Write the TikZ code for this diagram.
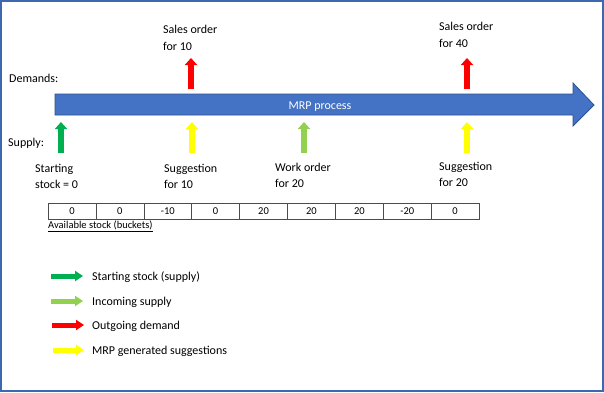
\documentclass[tikz,border=0pt]{standalone}
\usepackage{fontspec}
\setmainfont{Carlito}
\usetikzlibrary{arrows.meta}
\definecolor{mblue}{HTML}{4472C4}
\definecolor{mblueline}{HTML}{2F528F}
\definecolor{sgreen}{HTML}{00B050}
\definecolor{lgreen}{HTML}{92D050}
\definecolor{syellow}{HTML}{FFFF00}
\definecolor{sred}{HTML}{FF0000}
\begin{document}
\begin{tikzpicture}[x=1pt,y=-1pt,
  lbl/.style={anchor=base west,align=left,inner sep=0pt,font=\fontsize{12}{16.5}\selectfont},
  vup/.style={line width=6pt,-{Triangle[width=12pt,length=7pt]}},
  hright/.style={line width=5pt,-{Triangle[width=10pt,length=8pt]}},
  cell/.style={draw=black!70,line width=0.6pt,minimum width=47.9pt,minimum height=15.3pt,inner sep=0pt,font=\fontsize{10.5}{12}\selectfont}]
\useasboundingbox (0,0) rectangle (604,392);
\fill[white] (0,0) rectangle (604,392);
\draw[mblue!90!black,line width=1.5pt] (1,1) rectangle (603,391);
% big process arrow
\draw[fill=mblue,draw=mblueline,line width=0.8pt]
  (55,94) -- (573,94) -- (573,83) -- (594,105) -- (573,126) -- (573,115) -- (55,115) -- cycle;
\node[anchor=base,inner sep=0pt,text=white,font=\fontsize{12}{14}\selectfont] (mrp) at (320,109) {MRP process};
% side labels
\node[lbl] (dem) at (9,82.5) {Demands:};
\node[lbl] (sup) at (8,146) {Supply:};
% demand arrows
\coordinate (r1a) at (191,89); \coordinate (r1b) at (191,58);
\coordinate (r2a) at (467,89); \coordinate (r2b) at (467,58);
\draw[vup,sred] (r1a) -- (r1b);
\draw[vup,sred] (r2a) -- (r2b);
\node[lbl] (so10) at (163,50) {Sales order\\for 10};
\node[lbl] (so40) at (439,47) {Sales order\\for 40};
% supply arrows
\coordinate (g1a) at (61,153); \coordinate (g1b) at (61,122);
\coordinate (y1a) at (192,153); \coordinate (y1b) at (192,122);
\coordinate (l1a) at (304,153); \coordinate (l1b) at (304,122);
\coordinate (y2a) at (467,153); \coordinate (y2b) at (467,122);
\draw[vup,sgreen] (g1a) -- (g1b);
\draw[vup,syellow] (y1a) -- (y1b);
\draw[vup,lgreen] (l1a) -- (l1b);
\draw[vup,syellow] (y2a) -- (y2b);
\node[lbl] (st0) at (35,188.5) {Starting\\stock = 0};
\node[lbl] (sg10) at (164,188.5) {Suggestion\\for 10};
\node[lbl] (wo20) at (275,187.5) {Work order\\for 20};
\node[lbl] (sg20) at (439,186.5) {Suggestion\\for 20};
% buckets table
\foreach \v [count=\i] in {0,0,-10,0,20,20,20,-20,0}
  \node[cell] (c\i) at ({48+47.9*(\i-0.5)},211.4) {\v};
\node[anchor=base west,inner sep=0pt,font=\fontsize{10.5}{12}\selectfont] (avail) at (48,228) {\underline{Available stock (buckets)}};
% legend
\coordinate (la1) at (51,276); \coordinate (lb1) at (83,276);
\coordinate (la2) at (51,301); \coordinate (lb2) at (83,301);
\coordinate (la3) at (52,325); \coordinate (lb3) at (84,325);
\coordinate (la4) at (53,350); \coordinate (lb4) at (84,350);
\draw[hright,sgreen] (la1) -- (lb1);
\draw[hright,lgreen] (la2) -- (lb2);
\draw[hright,sred] (la3) -- (lb3);
\draw[hright,syellow] (la4) -- (lb4);
\node[lbl] (lg1) at (92,280) {Starting stock (supply)};
\node[lbl] (lg2) at (92,305) {Incoming supply};
\node[lbl] (lg3) at (92,329) {Outgoing demand};
\node[lbl] (lg4) at (92,354) {MRP generated suggestions};
\end{tikzpicture}
\end{document}
